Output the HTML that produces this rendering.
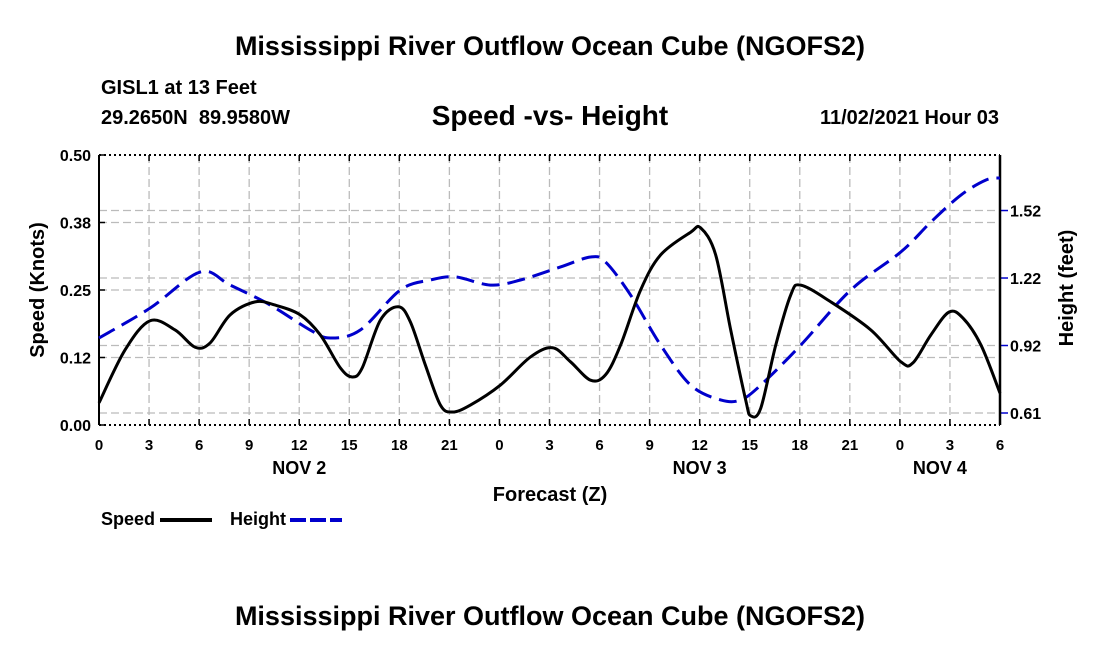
<!DOCTYPE html>
<html><head><meta charset="utf-8"><style>
body{margin:0;background:#fff;width:1100px;height:650px;overflow:hidden}
text{font-family:"Liberation Sans",sans-serif;font-weight:bold;fill:#000}
</style></head><body>
<svg id="chart" width="1100" height="650" xmlns="http://www.w3.org/2000/svg">
<text x="550" y="55" font-size="27" text-anchor="middle">Mississippi River Outflow Ocean Cube (NGOFS2)</text>
<text x="101" y="94" font-size="20">GISL1 at 13 Feet</text>
<text x="101" y="124" font-size="20" xml:space="preserve">29.2650N  89.9580W</text>
<text x="550" y="125" font-size="28" text-anchor="middle">Speed -vs- Height</text>
<text x="999" y="124" font-size="20" text-anchor="end">11/02/2021 Hour 03</text>
<g id="grid"></g><g id="axes"></g><g id="series"></g>
<text x="550" y="501" font-size="20" text-anchor="middle">Forecast (Z)</text>
<text transform="translate(44,290) rotate(-90)" font-size="20" text-anchor="middle">Speed (Knots)</text>
<text transform="translate(1073,288) rotate(-90)" font-size="20" text-anchor="middle">Height (feet)</text>
<g><text x="101" y="525" font-size="18">Speed</text><line x1="160" y1="520" x2="212" y2="520" stroke="#000" stroke-width="4"/></g>
<g><text x="230" y="525" font-size="18">Height</text><line x1="290" y1="520" x2="342" y2="520" stroke="#0000cc" stroke-width="4" stroke-dasharray="16,4"/></g>
<text x="550" y="625" font-size="27" text-anchor="middle">Mississippi River Outflow Ocean Cube (NGOFS2)</text>
</svg>
<script>
const xTickLabels=["0","3","6","9","12","15","18","21","0","3","6","9","12","15","18","21","0","3","6"];
const dayLabels=["NOV 2","NOV 3","NOV 4"];
const dayHours=[12,36,50.4];
const speedTicks=[0,0.125,0.25,0.375,0.5];
const speedTickLabels=["0.00","0.12","0.25","0.38","0.50"];
const heightTicks=[0.61,0.915,1.22,1.525];
const heightTickLabels=["0.61","0.92","1.22","1.52"];
const speedHours=[0,1.56,3.06,4.56,5.76,6.66,7.86,9.36,10.56,12.06,13.26,14.46,15.18,15.78,16.86,17.94,18.66,19.56,20.46,21.18,22.26,24.06,25.86,27.18,28.26,29.46,30.36,31.26,32.46,33.66,35.46,36.06,36.96,37.86,38.76,39.06,39.66,40.56,41.46,42.06,43.86,46.26,48.06,48.78,49.86,50.94,51.78,52.86,54];
const speedValues=[0.041,0.139,0.193,0.176,0.144,0.152,0.204,0.228,0.222,0.204,0.167,0.106,0.089,0.106,0.194,0.219,0.191,0.111,0.037,0.024,0.037,0.074,0.126,0.143,0.117,0.083,0.093,0.148,0.250,0.315,0.357,0.365,0.315,0.176,0.046,0.017,0.031,0.148,0.241,0.259,0.228,0.176,0.117,0.115,0.167,0.209,0.198,0.148,0.059];
const heightHours=[0,3.06,6.06,7.86,10.26,12.66,13.86,15.66,18.06,19.86,21.36,23.46,25.26,27.66,29.46,30.36,31.86,33.66,35.46,37.26,38.46,39.66,42.06,45.06,48.06,49.86,51.66,53.16,54];
const heightValues=[0.949,1.084,1.247,1.188,1.098,0.985,0.949,0.985,1.166,1.211,1.225,1.188,1.211,1.270,1.315,1.292,1.143,0.917,0.736,0.669,0.669,0.736,0.917,1.166,1.338,1.473,1.595,1.663,1.672];

const X0=99,X1=1000,Y0=425,Y1=155,NS="http://www.w3.org/2000/svg";
const xS=h=>X0+(h/54)*(X1-X0);
const yS=s=>Y0-(s/0.5)*(Y0-Y1);
const yH=h=>413-(h-0.61)/0.004519;
function mk(p,tag,at){const e=document.createElementNS(NS,tag);for(const k in at)e.setAttribute(k,at[k]);p.appendChild(e);return e;}
const grid=document.getElementById('grid'),axes=document.getElementById('axes'),ser=document.getElementById('series');
const gs={stroke:"#bbb","stroke-width":1.3,"stroke-dasharray":"8,4"};
xTickLabels.forEach((l,i)=>{const x=xS(i*3);
 if(i>0&&i<xTickLabels.length-1){const g=mk(grid,'line',Object.assign({x1:x,x2:x,y1:Y1,y2:Y0},gs));
 
 }
 mk(axes,'line',{x1:x,x2:x,y1:Y0,y2:Y0-6,stroke:"#000","stroke-width":1.5});
 mk(axes,'line',{x1:x,x2:x,y1:Y1,y2:Y1+6,stroke:"#000","stroke-width":1.5});
 const t=mk(axes,'text',{x:x,y:Y0+25,"font-size":15,"text-anchor":"middle"});t.textContent=l;
 
 });
dayLabels.forEach((l,i)=>{const t=mk(axes,'text',{x:xS(dayHours[i]),y:Y0+49,"font-size":18,"text-anchor":"middle"});t.textContent=l;
 
 });
speedTicks.forEach((v,i)=>{const y=yS(v);
 if(i>0&&i<speedTicks.length-1){const g=mk(grid,'line',Object.assign({x1:X0,x2:X1,y1:y,y2:y},gs));
 
 }
 mk(axes,'line',{x1:X0,x2:X0+6,y1:y,y2:y,stroke:"#000","stroke-width":1.5});
 const t=mk(axes,'text',{x:X0-8,y:y+6,"font-size":16,"text-anchor":"end"});t.textContent=speedTickLabels[i];
 
 });
heightTicks.forEach((v,i)=>{const y=yH(v);
 const g=mk(grid,'line',Object.assign({x1:X0,x2:X1,y1:y,y2:y},gs));
 
 
 mk(axes,'line',{x1:X1,x2:X1+8,y1:y,y2:y,stroke:"#0000cc","stroke-width":1.5});
 const t=mk(axes,'text',{x:X1+10,y:y+6,"font-size":16});t.textContent=heightTickLabels[i];
 
 });
mk(axes,'line',{x1:X0,x2:X1,y1:Y1,y2:Y1,stroke:"#000","stroke-width":2,"stroke-dasharray":"2,3"});
mk(axes,'line',{x1:X0,x2:X1,y1:Y0,y2:Y0,stroke:"#000","stroke-width":2,"stroke-dasharray":"2,3"});
mk(axes,'line',{x1:X0,x2:X0,y1:Y1,y2:Y0,stroke:"#000","stroke-width":2});
mk(axes,'line',{x1:X1,x2:X1,y1:Y1,y2:Y0,stroke:"#000","stroke-width":2.5});
function path(pts){let d="M"+pts[0][0]+","+pts[0][1];
 for(let i=0;i<pts.length-1;i++){const p0=pts[Math.max(0,i-1)],p1=pts[i],p2=pts[i+1],p3=pts[Math.min(pts.length-1,i+2)];
 d+=" C"+(p1[0]+(p2[0]-p0[0])/6)+","+(p1[1]+(p2[1]-p0[1])/6)+" "+(p2[0]-(p3[0]-p1[0])/6)+","+(p2[1]-(p3[1]-p1[1])/6)+" "+p2[0]+","+p2[1];}
 return d;}
const hp=mk(ser,'path',{d:path(heightHours.map((h,i)=>[xS(h),yH(heightValues[i])])),fill:"none",stroke:"#0000cc","stroke-width":3,"stroke-dasharray":"18,8"});


const sp=mk(ser,'path',{d:path(speedHours.map((h,i)=>[xS(h),yS(speedValues[i])])),fill:"none",stroke:"#000","stroke-width":3});


</script>
</body></html>
